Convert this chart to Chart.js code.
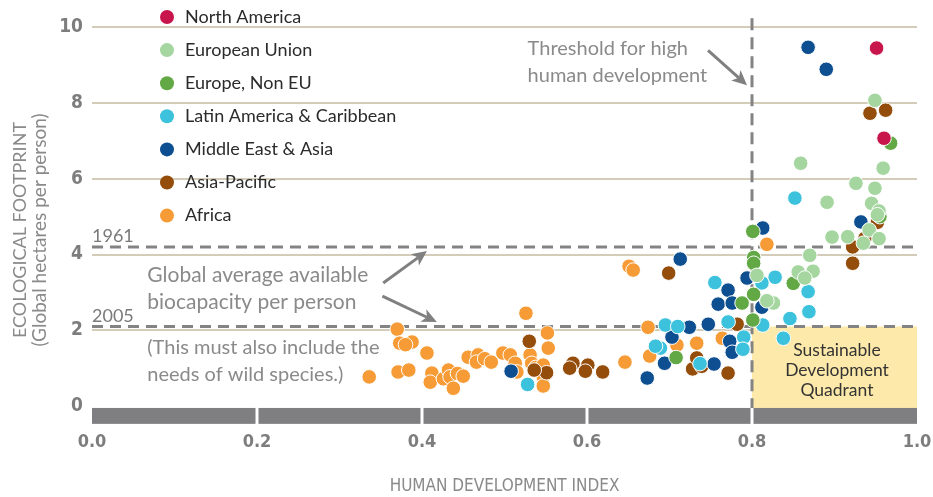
<!DOCTYPE html>
<html><head><meta charset="utf-8">
<script src="https://cdn.jsdelivr.net/npm/chart.js@4.4.1/dist/chart.umd.min.js"></script>
<style>html,body{margin:0;padding:0;background:#fff;}canvas{display:block;}</style>
</head><body>
<canvas id="c" width="933" height="497"></canvas>
<script>
// ---- data (HDI, Ecological footprint) ----
const seriesNames = ['North America','European Union','Europe, Non EU','Latin America & Caribbean','Middle East & Asia','Asia-Pacific','Africa'];
const seriesColors = ['#c8154c','#a5d6a0','#62a845','#3dc2dd','#0d4f91','#954d0c','#f69b35'];
const northAmerica = [[0.951,9.45],[0.960,7.07]];
const europeanUnion = [[0.949,8.07],[0.959,6.28],[0.859,6.41],[0.891,5.38],[0.926,5.88],[0.949,5.75],[0.945,5.35],[0.954,5.15],[0.952,5.05],[0.942,4.65],[0.897,4.46],[0.916,4.47],[0.954,4.42],[0.935,4.30],[0.870,3.98],[0.856,3.54],[0.874,3.56],[0.864,3.38],[0.826,2.72],[0.818,2.78],[0.806,3.45]];
const europeNonEU = [[0.968,6.94],[0.955,5.00],[0.801,4.61],[0.802,3.92],[0.802,3.77],[0.850,3.24],[0.802,2.95],[0.788,2.72],[0.801,2.27],[0.708,1.28]];
const latinAmerica = [[0.852,5.49],[0.828,3.40],[0.812,3.25],[0.868,3.02],[0.869,2.49],[0.846,2.31],[0.838,1.79],[0.790,1.82],[0.813,2.14],[0.755,3.26],[0.771,2.22],[0.695,2.14],[0.710,2.10],[0.689,1.53],[0.683,1.58],[0.737,1.12],[0.528,0.57],[0.789,1.50]];
const middleEastAsia = [[0.868,9.47],[0.890,8.89],[0.932,4.86],[0.813,4.70],[0.713,3.88],[0.794,3.38],[0.771,3.06],[0.759,2.69],[0.776,2.72],[0.812,2.61],[0.747,2.16],[0.724,2.08],[0.703,1.82],[0.773,1.71],[0.776,1.42],[0.694,1.13],[0.754,1.11],[0.673,0.74],[0.508,0.92]];
const asiaPacific = [[0.943,7.73],[0.962,7.81],[0.937,4.43],[0.922,4.20],[0.922,3.77],[0.952,4.85],[0.699,3.51],[0.782,2.16],[0.530,1.71],[0.583,1.13],[0.579,1.00],[0.601,1.08],[0.598,0.92],[0.619,0.90],[0.771,0.87],[0.728,0.98],[0.733,1.27],[0.739,1.05],[0.551,0.88],[0.536,0.95]];
const africa = [[0.526,2.45],[0.370,2.03],[0.373,1.66],[0.388,1.69],[0.380,1.62],[0.406,1.40],[0.336,0.77],[0.371,0.90],[0.384,0.95],[0.412,0.87],[0.410,0.63],[0.426,0.72],[0.432,0.95],[0.434,0.77],[0.438,0.47],[0.443,0.86],[0.450,0.79],[0.456,1.29],[0.468,1.35],[0.466,1.16],[0.476,1.25],[0.484,1.16],[0.498,1.40],[0.507,1.35],[0.513,1.13],[0.515,0.90],[0.552,1.93],[0.553,1.53],[0.531,1.35],[0.533,1.13],[0.538,1.02],[0.547,1.08],[0.547,0.77],[0.547,0.53],[0.651,3.69],[0.656,3.59],[0.646,1.16],[0.674,2.08],[0.676,1.32],[0.733,1.66],[0.709,1.61],[0.764,1.79],[0.818,4.27]];
const seriesData = [northAmerica, europeanUnion, europeNonEU, latinAmerica, middleEastAsia, asiaPacific, africa];

const xTicks = [0.0,0.2,0.4,0.6,0.8,1.0];
const yTicks = [0,2,4,6,8,10];
const biocapacity1961 = 4.2;
const biocapacity2005 = 2.1;
const hdiThreshold = 0.8;

const xTitle = 'HUMAN DEVELOPMENT INDEX';
const yTitle = ['ECOLOGICAL FOOTPRINT','(Global hectares per person)'];
const thresholdText = ['Threshold for high','human development'];
const biocapText = ['Global average available','biocapacity per person'];
const wildText = ['(This must also include the','needs of wild species.)'];
const quadrantText = ['Sustainable','Development','Quadrant'];

const NARROW = "'Liberation Sans Narrow','DejaVu Sans Condensed',sans-serif";
const BODY = "Lato,'Open Sans',sans-serif";

function arrow(ctx,x1,y1,x2,y2){
  const ang=Math.atan2(y2-y1,x2-x1), hl=15, hw=7;
  const c=Math.cos(ang), s=Math.sin(ang);
  const bx=x2-hl*c, by=y2-hl*s;
  ctx.beginPath(); ctx.moveTo(x1,y1); ctx.lineTo(bx+4*c,by+4*s); ctx.stroke();
  ctx.beginPath(); ctx.moveTo(x2,y2);
  ctx.lineTo(bx-hw*s, by+hw*c);
  ctx.lineTo(bx+4*c, by+4*s);
  ctx.lineTo(bx+hw*s, by-hw*c);
  ctx.closePath(); ctx.fill();
}

const decor = {
  id:'decor',
  beforeDatasetsDraw(chart){
    const {ctx, scales:{x,y}, chartArea:a} = chart;
    const X=v=>x.getPixelForValue(v), Y=v=>y.getPixelForValue(v);
    ctx.save();
    // sustainable quadrant
    ctx.fillStyle='#fde9a9';
    ctx.fillRect(X(hdiThreshold), Y(biocapacity2005), X(1)-X(hdiThreshold), Y(-0.05)-Y(biocapacity2005));
    // grey base bar
    ctx.fillStyle='#7f7f81';
    for(let i=0;i<xTicks.length-1;i++){
      const l=X(xTicks[i])+(i>0?1.5:0), r=X(xTicks[i+1])-(i<xTicks.length-2?1.5:0);
      ctx.fillRect(l, Y(-0.05), r-l, Y(-0.47)-Y(-0.05));
    }
    // dashed lines
    ctx.strokeStyle='#838383'; ctx.lineWidth=3; ctx.setLineDash([11,7]);
    [biocapacity1961, biocapacity2005].forEach(v=>{ctx.beginPath();ctx.moveTo(a.left,Y(v));ctx.lineTo(a.right,Y(v));ctx.stroke();});
    ctx.setLineDash([12,7]);
    ctx.beginPath(); ctx.moveTo(X(hdiThreshold),Y(10.24)); ctx.lineTo(X(hdiThreshold),Y(-0.05)); ctx.stroke();
    ctx.setLineDash([]);
    // year labels
    ctx.fillStyle='#7a7a7a'; ctx.font="18px "+BODY; ctx.textBaseline='middle'; ctx.textAlign='left';
    ctx.fillText('1961', a.left, Y(biocapacity1961)-11);
    ctx.fillText('2005', a.left, Y(biocapacity2005)-10);
    // annotations
    ctx.fillStyle='#8a8a8a';
    ctx.font="20px "+BODY;
    ctx.fillText(thresholdText[0], X(0.528), Y(9.45));
    ctx.fillText(thresholdText[1], X(0.528), Y(8.73));
    ctx.font="21px "+BODY;
    ctx.fillText(biocapText[0], X(0.067), Y(3.45));
    ctx.fillText(biocapText[1], X(0.067), Y(2.74));
    ctx.font="20px "+BODY;
    ctx.fillText(wildText[0], X(0.067), Y(1.55));
    ctx.fillText(wildText[1], X(0.067), Y(0.82));
    ctx.strokeStyle='#808080'; ctx.fillStyle='#808080'; ctx.lineWidth=3;
    arrow(ctx, X(0.7467), Y(9.39), X(0.794), Y(8.47));
    arrow(ctx, X(0.353), Y(3.25), X(0.406), Y(4.09));
    arrow(ctx, X(0.352), Y(2.90), X(0.418), Y(2.22));
    // quadrant text
    ctx.fillStyle='#333'; ctx.font="17.5px "+BODY; ctx.textAlign='center';
    quadrantText.forEach((t,i)=>ctx.fillText(t, X(0.903), Y(1.48-i*0.53)));
    ctx.restore();
  },
  afterDraw(chart){
    const {ctx} = chart;
    ctx.save();
    // legend
    ctx.font="18px "+BODY; ctx.textBaseline='middle'; ctx.textAlign='left';
    chart.data.datasets.forEach((d,i)=>{
      const cy=17+i*33.1;
      ctx.beginPath(); ctx.arc(167,cy,7,0,Math.PI*2); ctx.fillStyle=d.backgroundColor; ctx.fill();
      ctx.fillStyle='#2b2b2b'; ctx.fillText(d.label,185,cy);
    });
    // y title
    ctx.fillStyle='#8a8a8a'; ctx.textAlign='center';
    ctx.translate(20,230); ctx.rotate(-Math.PI/2);
    ctx.font="18px "+BODY; ctx.fillText(yTitle[0],0,0);
    ctx.font="19px "+BODY; ctx.fillText(yTitle[1],0,20);
    ctx.restore();
  }
};

new Chart(document.getElementById('c'), {
  type:'scatter',
  data:{datasets: seriesNames.map((n,i)=>({
    label:n,
    data: seriesData[i].map(p=>({x:p[0],y:p[1]})),
    backgroundColor: seriesColors[i],
    borderColor:'#ffffff', borderWidth:1, pointRadius:7.3, pointHoverRadius:7.3
  }))},
  options:{
    responsive:false, animation:false, devicePixelRatio:1,
    layout:{padding:{left:0,right:16,top:8,bottom:0}},
    plugins:{legend:{display:false}, tooltip:{enabled:false}},
    scales:{
      x:{type:'linear', min:0, max:1,
        afterBuildTicks:s=>{s.ticks=xTicks.map(v=>({value:v}));},
        afterFit:s=>{s.height=72; s.paddingLeft=0; s.paddingRight=0;},
        grid:{display:false, drawTicks:false}, border:{display:false},
        ticks:{padding:7, color:'#7d7d7d', font:{family:NARROW,size:18,weight:'bold'}, callback:v=>Number(v).toFixed(1)},
        title:{display:true, text:xTitle, color:'#8a8a8a', font:{family:NARROW,size:17}, padding:0}
      },
      y:{type:'linear', min:-0.5, max:10.5,
        afterBuildTicks:s=>{s.ticks=yTicks.map(v=>({value:v}));},
        afterFit:s=>{s.width=92; s.paddingTop=0; s.paddingBottom=0;},
        grid:{color:c=>c.tick&&c.tick.value===0?'rgba(0,0,0,0)':'#d3ccb9', lineWidth:2, drawTicks:false}, border:{display:false},
        ticks:{padding:9, color:'#7d7d7d', font:{family:NARROW,size:19,weight:'bold'}, callback:v=>String(v)}
      }
    }
  },
  plugins:[decor]
});
</script>
</body></html>
